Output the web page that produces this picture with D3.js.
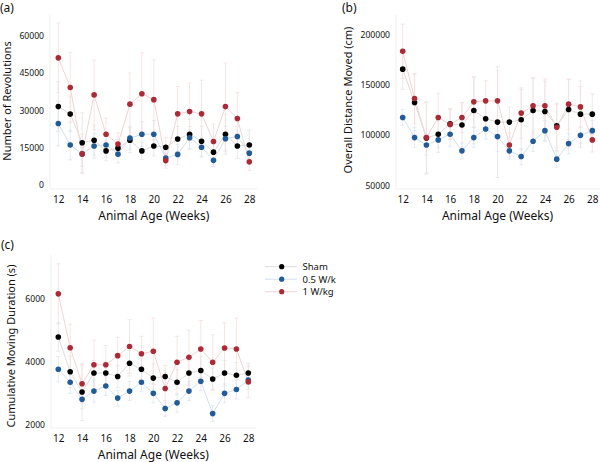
<!DOCTYPE html>
<html>
<head>
<meta charset="utf-8">
<script src="https://cdn.jsdelivr.net/npm/d3@7"></script>
<style>
  body { margin: 0; background: #fff; }
  text { font-family: "Noto Sans", "Open Sans", sans-serif; fill: #111; }
</style>
</head>
<body>
<script>
// weeks of age (x axis for every panel)
const weeks = [12, 13, 14, 15, 16, 17, 18, 19, 20, 21, 22, 23, 24, 25, 26, 27, 28]
const groups = ["Sham", "0.5 W/k", "1 W/kg"]
const xTicks = [12, 14, 16, 18, 20, 22, 24, 26, 28]

// (a) number of revolutions
const revSham = [31500, 28500, 17000, 18000, 13700, 14800, 18000, 13700, 15700, 15200, 18500, 20400, 17600, 13200, 20400, 15700, 16100]
const revLow  = [24700, 16100, 12500, 15700, 16100, 12400, 18900, 20400, 20400, 10800, 12300, 19000, 15200, 9900, 18600, 19500, 12800]
const revHigh = [51100, 39200, 12500, 36200, 20400, 16500, 32500, 36700, 34300, 9800, 28600, 29500, 28600, 17500, 31500, 26700, 9300]
const revShamErr = [10000, 7000, 12000, 6000, 4000, 3500, 5000, 3500, 4000, 4000, 5000, 6000, 6000, 5000, 8000, 5000, 6000]
const revLowErr  = [9000, 6000, 5000, 5000, 5000, 3500, 4500, 5000, 5500, 3000, 4000, 4500, 4000, 2500, 5000, 4000, 4000]
const revHighErr = [14000, 14000, 8000, 14000, 6500, 4500, 12500, 16500, 16000, 3000, 11000, 11500, 13500, 7000, 17500, 10500, 3500]
const revTicks = [0, 15000, 30000, 45000, 60000]

// (b) overall distance moved (cm)
const distSham = [165400, 132200, 97000, 100700, 111000, 109900, 124300, 116100, 112800, 112800, 115100, 124300, 123300, 109200, 125300, 120700, 120700]
const distLow  = [117400, 97400, 90100, 95100, 100700, 84200, 97400, 105900, 98400, 84200, 78600, 93800, 104300, 76000, 91400, 99700, 104300]
const distHigh = [183100, 136200, 97400, 117400, 110500, 117400, 132900, 133900, 133900, 90100, 121700, 128900, 128900, 107600, 130600, 127900, 95100]
const distShamErr = [20000, 28000, 36000, 18000, 15000, 22000, 33000, 15000, 55000, 15000, 30000, 32000, 30000, 22000, 30000, 33000, 20000]
const distLowErr  = [8000, 10000, 10000, 8000, 12000, 8000, 10000, 10000, 15000, 8000, 8000, 10000, 10000, 8000, 10000, 8000, 10000]
const distHighErr = [27000, 25000, 35000, 24000, 15000, 15000, 25000, 20000, 30000, 12000, 25000, 28000, 27000, 23000, 25000, 20000, 12000]
const distTicks = [50000, 100000, 150000, 200000]

// (c) cumulative moving duration (s)
const durSham = [4780, 3680, 3040, 3640, 3640, 3530, 3950, 3760, 3480, 3530, 3350, 3640, 3720, 3450, 3640, 3570, 3640]
const durLow  = [3760, 3350, 2810, 3070, 3230, 2850, 3070, 3350, 3000, 2520, 2700, 3070, 3380, 2360, 3000, 3120, 3420]
const durHigh = [6140, 4440, 3300, 3900, 3900, 4190, 4480, 4250, 4330, 3150, 3980, 4140, 4400, 3980, 4430, 4400, 3360]
const durShamErr = [450, 500, 900, 400, 350, 350, 400, 350, 450, 350, 400, 400, 450, 350, 400, 400, 300]
const durLowErr  = [400, 350, 300, 350, 300, 250, 300, 300, 300, 250, 300, 300, 300, 250, 300, 300, 300]
const durHighErr = [950, 740, 600, 780, 610, 580, 850, 550, 1050, 550, 820, 850, 900, 870, 800, 970, 500]
const durTicks = [2000, 4000, 6000]

const dotColors = ["#000000", "#215b98", "#ab2a36"]
const lineColors = ["#dcdcdc", "#d3dfed", "#f3d3d3"]
const barColors = ["#e4e4e4", "#dde6f1", "#f6dede"]

const svg = d3.select("body").append("svg")
  .attr("width", 600)
  .attr("height", 462)

function drawPanel(p) {
  const x = d3.scaleLinear().domain([12, 28]).range(p.xRange)
  const y = d3.scaleLinear().domain(p.yDomain).range(p.yRange)
  const g = svg.append("g")

  // faint L shaped axes
  g.append("line")
    .attr("x1", p.axisX).attr("x2", p.axisX)
    .attr("y1", p.top).attr("y2", p.axisY)
    .attr("stroke", "#efefef")
  g.append("line")
    .attr("x1", p.axisX).attr("x2", p.xRange[1] + 8)
    .attr("y1", p.axisY).attr("y2", p.axisY)
    .attr("stroke", "#efefef")

  // tick labels
  const yAxis = g.append("g")
    .attr("transform", `translate(${p.axisX - 6},0)`)
    .call(d3.axisLeft(y).tickValues(p.ticks).tickSize(0).tickPadding(0).tickFormat(d3.format("d")))
  yAxis.select(".domain").remove()
  yAxis.selectAll("text").style("font-size", "8.6px").attr("font-family", null)

  const xAxis = g.append("g")
    .attr("transform", `translate(0,${p.axisY + 4})`)
    .call(d3.axisBottom(x).tickValues(xTicks).tickSize(0).tickPadding(3))
  xAxis.select(".domain").remove()
  xAxis.selectAll("text").style("font-size", "10px").attr("font-family", null)

  // axis titles
  g.append("text")
    .attr("x", (p.xRange[0] + p.xRange[1]) / 2)
    .attr("y", p.xTitleY)
    .attr("text-anchor", "middle")
    .style("font-size", "12px")
    .text("Animal Age (Weeks)")
  g.append("text")
    .attr("transform", `translate(${p.yTitleX},${p.yTitleY}) rotate(-90)`)
    .attr("text-anchor", "middle")
    .style("font-size", "11px")
    .text(p.yTitle)
  g.append("text")
    .attr("x", p.tagX).attr("y", p.tagY)
    .style("font-size", "12px")
    .text(p.tag)

  // error bars, lines, then dots for each group
  p.series.forEach((vals, k) => {
    const errs = p.errors[k]
    const eb = g.append("g").attr("stroke", barColors[k]).attr("stroke-width", 0.8)
    weeks.forEach((w, i) => {
      const cx = x(w)
      const y0 = y(vals[i] - errs[i])
      const y1 = y(vals[i] + errs[i])
      eb.append("line").attr("x1", cx).attr("x2", cx).attr("y1", y0).attr("y2", y1)
      eb.append("line").attr("x1", cx - 2).attr("x2", cx + 2).attr("y1", y0).attr("y2", y0)
      eb.append("line").attr("x1", cx - 2).attr("x2", cx + 2).attr("y1", y1).attr("y2", y1)
    })
    g.append("path")
      .datum(vals)
      .attr("fill", "none")
      .attr("stroke", lineColors[k])
      .attr("stroke-width", 1)
      .attr("d", d3.line().x((d, i) => x(weeks[i])).y(d => y(d)))
  })
  p.series.forEach((vals, k) => {
    g.selectAll(null)
      .data(vals)
      .enter()
      .append("circle")
      .attr("cx", (d, i) => x(weeks[i]))
      .attr("cy", d => y(d))
      .attr("r", 2.8)
      .attr("fill", dotColors[k])
  })
}

drawPanel({
  tag: "(a)", tagX: 0, tagY: 12,
  xRange: [58.3, 249.3], yDomain: [0, 60000], yRange: [185, 35.7],
  axisX: 50, axisY: 189, top: 15,
  ticks: revTicks, xTitleY: 220, yTitleX: 11, yTitleY: 101,
  yTitle: "Number of Revolutions",
  series: [revSham, revLow, revHigh],
  errors: [revShamErr, revLowErr, revHighErr]
})

drawPanel({
  tag: "(b)", tagX: 342, tagY: 12,
  xRange: [402.7, 592.3], yDomain: [50000, 200000], yRange: [185.3, 34.3],
  axisX: 396, axisY: 189, top: 15,
  ticks: distTicks, xTitleY: 220, yTitleX: 352, yTitleY: 100,
  yTitle: "Overall Distance Moved (cm)",
  series: [distSham, distLow, distHigh],
  errors: [distShamErr, distLowErr, distHighErr]
})

drawPanel({
  tag: "(c)", tagX: 1, tagY: 249,
  xRange: [58.3, 248.3], yDomain: [2000, 6000], yRange: [425, 298.3],
  axisX: 51, axisY: 428, top: 255,
  ticks: durTicks, xTitleY: 459, yTitleX: 15, yTitleY: 346,
  yTitle: "Cumulative Moving Duration (s)",
  series: [durSham, durLow, durHigh],
  errors: [durShamErr, durLowErr, durHighErr]
})

// legend
const legend = svg.append("g").selectAll("g")
  .data(groups)
  .enter()
  .append("g")
  .attr("transform", (d, i) => `translate(265,${266.7 + i * 12.5})`)

legend.append("line")
  .attr("x1", 0).attr("x2", 32)
  .attr("stroke", (d, i) => lineColors[i])
  .attr("stroke-width", 1)

legend.append("circle")
  .attr("cx", 16.7)
  .attr("r", 2.6)
  .attr("fill", (d, i) => dotColors[i])

legend.append("text")
  .attr("x", 37.5)
  .attr("dy", "0.35em")
  .style("font-size", "9.5px")
  .text(d => d)
</script>
</body>
</html>
